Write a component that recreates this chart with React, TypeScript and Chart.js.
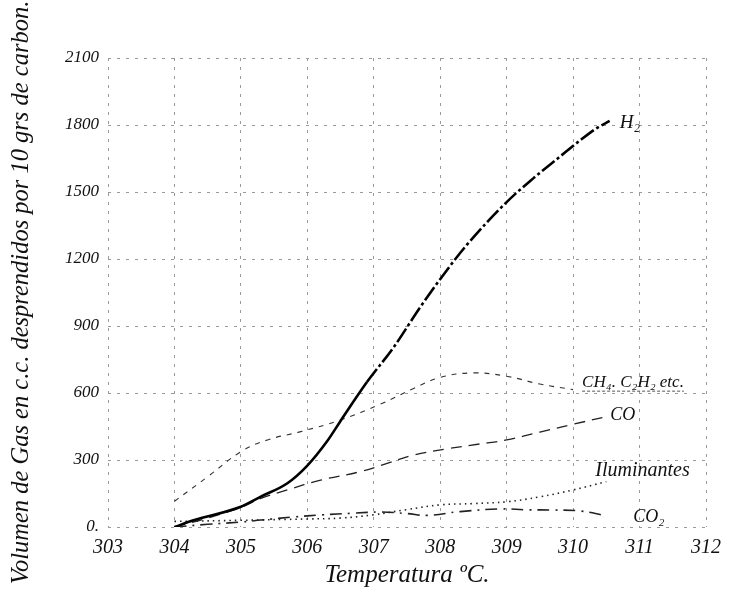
import React, { useEffect, useRef } from "react";
import { Chart, registerables } from "chart.js";

Chart.register(...registerables);

// ---- data ----
const xTicks = [303, 304, 305, 306, 307, 308, 309, 310, 311, 312];
const yTicks = [0, 300, 600, 900, 1200, 1500, 1800, 2100];
const yTickLabels = ["0.", "300", "600", "900", "1200", "1500", "1800", "2100"];

const h2X = [304, 304.3, 305, 305.3, 305.7, 306, 306.3, 306.5, 306.9, 307.3, 307.7, 308.1, 308.4, 309, 309.4, 309.8, 310.1, 310.35, 310.55];
const h2Y = [0, 31, 91, 136, 196, 275, 385, 475, 650, 805, 985, 1150, 1263, 1455, 1561, 1658, 1730, 1785, 1818];

const ch4X = [304, 304.5, 305, 305.4, 305.9, 306.5, 307.1, 307.6, 308, 308.5, 309, 309.5, 310];
const ch4Y = [115, 225, 337, 390, 427, 479, 550, 620, 670, 690, 675, 640, 615];

const coX = [304, 304.5, 305, 305.3, 305.7, 306.2, 306.8, 307.2, 307.6, 308.1, 308.6, 309, 309.5, 310, 310.5];
const coY = [0, 40, 88, 128, 166, 210, 248, 285, 322, 350, 372, 390, 425, 460, 494];

const ilumX = [304, 305, 306, 306.5, 307, 307.5, 308, 308.5, 309, 309.5, 310, 310.5];
const ilumY = [25, 30, 36, 40, 55, 78, 99, 105, 113, 135, 166, 203];

const co2X = [304, 304.5, 305, 305.3, 305.8, 306.2, 306.7, 307.1, 307.5, 307.8, 308.3, 308.9, 309.3, 309.7, 310.1, 310.5];
const co2Y = [0, 12, 22, 31, 45, 54, 62, 67, 60, 52, 69, 81, 77, 76, 72, 50];

const seriesNames = ["H₂", "CH₄. C₂H₂ etc.", "CO", "Iluminantes", "CO₂"];

const yTitle = "Volumen de Gas en c.c. desprendidos por 10 grs de carbon.";
const xTitle = "Temperatura ºC.";

const pts = (xs: number[], ys: number[]) => xs.map((x, i) => ({ x, y: ys[i] }));

const FONT = "'Liberation Serif', 'DejaVu Serif', serif";

const labelStyle = [
  { dx: 10, dy: 2, size: 19, underline: false },
  { dx: 9, dy: -7, size: 17, underline: true },
  { dx: 4, dy: -1, size: 18, underline: false },
  { dx: -11, dy: -11, size: 20, underline: false },
  { dx: 27, dy: 1, size: 18, underline: false },
];

const endLabels = {
  id: "endLabels",
  afterDatasetsDraw(chart: any) {
    const ctx = chart.ctx;
    chart.data.datasets.forEach((ds: any, i: number) => {
      const meta = chart.getDatasetMeta(i);
      const p = meta.data[meta.data.length - 1];
      const s = labelStyle[i];
      ctx.save();
      ctx.font = `italic ${s.size}px ${FONT}`;
      ctx.fillStyle = "#111";
      ctx.textBaseline = "middle";
      ctx.textAlign = "left";
      const tx = p.x + s.dx;
      const ty = p.y + s.dy;
      ctx.fillText(ds.label, tx, ty);
      if (s.underline) {
        const w = ctx.measureText(ds.label).width;
        ctx.strokeStyle = "#555";
        ctx.lineWidth = 1;
        ctx.setLineDash([3, 2]);
        ctx.beginPath();
        ctx.moveTo(tx, ty + s.size / 2);
        ctx.lineTo(tx + w, ty + s.size / 2);
        ctx.stroke();
      }
      ctx.restore();
    });
  },
};

export default function App() {
  const ref = useRef<HTMLCanvasElement | null>(null);

  useEffect(() => {
    if (!ref.current) return;
    const chart = new Chart(ref.current, {
      type: "line",
      data: {
        datasets: [
          {
            label: seriesNames[0],
            data: pts(h2X, h2Y),
            borderColor: "#000",
            borderWidth: 2.6,
            pointRadius: 0,
            cubicInterpolationMode: "monotone",
            segment: {
              borderDash: (c: any) => (c.p0.parsed.x >= 306.9 ? [16, 3, 3, 3] : undefined),
            },
          },
          {
            label: seriesNames[1],
            data: pts(ch4X, ch4Y),
            borderColor: "#333",
            borderWidth: 1.1,
            borderDash: [5, 6],
            pointRadius: 0,
            tension: 0.4,
          },
          {
            label: seriesNames[2],
            data: pts(coX, coY),
            borderColor: "#222",
            borderWidth: 1.3,
            borderDash: [11, 7],
            pointRadius: 0,
            tension: 0.4,
          },
          {
            label: seriesNames[3],
            data: pts(ilumX, ilumY),
            borderColor: "#222",
            borderWidth: 1.6,
            borderDash: [1.5, 4],
            pointRadius: 0,
            tension: 0.4,
          },
          {
            label: seriesNames[4],
            data: pts(co2X, co2Y),
            borderColor: "#222",
            borderWidth: 1.6,
            borderDash: [12, 6, 2, 6],
            pointRadius: 0,
            tension: 0.4,
          },
        ],
      },
      options: {
        responsive: false,
        animation: false,
        layout: { padding: { left: 0, top: 58, right: 20, bottom: 0 } },
        plugins: {
          legend: { display: false },
          tooltip: { enabled: false },
        },
        scales: {
          x: {
            type: "linear",
            min: 303,
            max: 312,
            afterBuildTicks: (s: any) => {
              s.ticks = xTicks.map((v) => ({ value: v }));
            },
            afterFit: (s: any) => {
              s.height = 69;
            },
            ticks: {
              color: "#111",
              padding: 9,
              font: { family: FONT, size: 20, style: "italic" },
              callback: (v: any) => String(v),
            },
            grid: { color: "#9a9a9a", lineWidth: 1, drawTicks: false },
            border: { display: false, dash: [3, 6] },
            title: {
              display: true,
              text: xTitle,
              color: "#111",
              font: { family: FONT, size: 25, style: "italic" },
              padding: { top: 0, bottom: 6 },
            },
          },
          y: {
            type: "linear",
            min: 0,
            max: 2100,
            afterBuildTicks: (s: any) => {
              s.ticks = yTicks.map((v) => ({ value: v }));
            },
            afterFit: (s: any) => {
              s.width = 108;
            },
            ticks: {
              color: "#111",
              padding: 9,
              font: { family: FONT, size: 17, style: "italic" },
              callback: (v: any) => yTickLabels[yTicks.indexOf(Number(v))] ?? String(v),
            },
            grid: { color: "#9a9a9a", lineWidth: 1, drawTicks: false },
            border: { display: false, dash: [3, 6] },
            title: {
              display: true,
              text: yTitle,
              color: "#111",
              font: { family: FONT, size: 24.5, style: "italic" },
              padding: { top: 7, bottom: 0 },
            },
          },
        },
      },
      plugins: [endLabels],
    } as any);
    return () => chart.destroy();
  }, []);

  return (
    <div style={{ position: "fixed", left: 0, top: 0, width: 730, height: 596, background: "#fff" }}>
      <canvas ref={ref} width={730} height={596} style={{ width: 730, height: 596, display: "block" }} />
    </div>
  );
}
